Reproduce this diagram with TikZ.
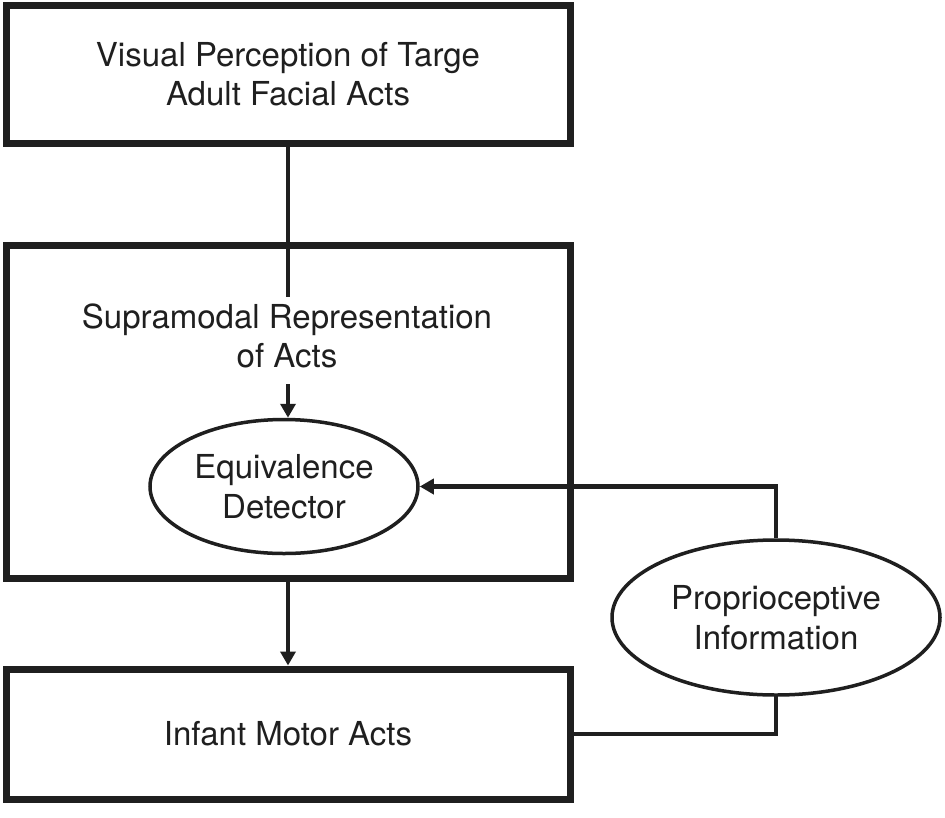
\documentclass[tikz,border=0pt]{standalone}
\usepackage{fontspec}
\setmainfont{TeX Gyre Heros}
\usetikzlibrary{shapes.geometric,arrows.meta}
\begin{document}
\begin{tikzpicture}[x=1pt,y=-1pt,
  ink/.style={draw=black!88},
  box/.style={ink, line width=7pt, rectangle, inner sep=0pt},
  oval/.style={ink, ellipse, line width=3.5pt, inner sep=0pt},
  lbl/.style={font=\fontsize{33}{39.5}\selectfont, align=center, text=black!88},
  conn/.style={ink, line width=4.8pt},
  arr/.style={conn, -{Triangle[length=14pt,width=15pt]}}]
\useasboundingbox[fill=white] (0,0) rectangle (945,817);
% boxes
\node[box, minimum width=564pt, minimum height=138pt, lbl] (top) at (288,74)
  {Visual Perception of Targe\\Adult Facial Acts};
\node[box, minimum width=564pt, minimum height=333pt] (mid) at (288,411.5) {};
\node[box, minimum width=564pt, minimum height=130pt, lbl] (bot) at (288,734)
  {Infant Motor Acts};
% inner text and ellipses
\node[lbl] (sup) at (287,336) {Supramodal Representation\\of Acts};
\node[oval, minimum width=268pt, minimum height=134pt, lbl] (eq) at (284,486.5)
  {Equivalence\\Detector};
\node[oval, minimum width=328pt, minimum height=155pt, fill=white, lbl] (pro) at (776,617.5)
  {Proprioceptive\\Information};
% connectors
\coordinate (gapTop) at (288,297);
\coordinate (gapBot) at (288,384);
\draw[conn] (top.south) -- (gapTop);
\draw[arr] (gapBot) -- (gapBot |- eq.north);
\draw[arr] (mid.south) -- (bot.north);
\draw[arr] (pro.north) |- (eq.east);
\draw[conn] (bot.east) -| (pro.south);
\end{tikzpicture}
\end{document}
